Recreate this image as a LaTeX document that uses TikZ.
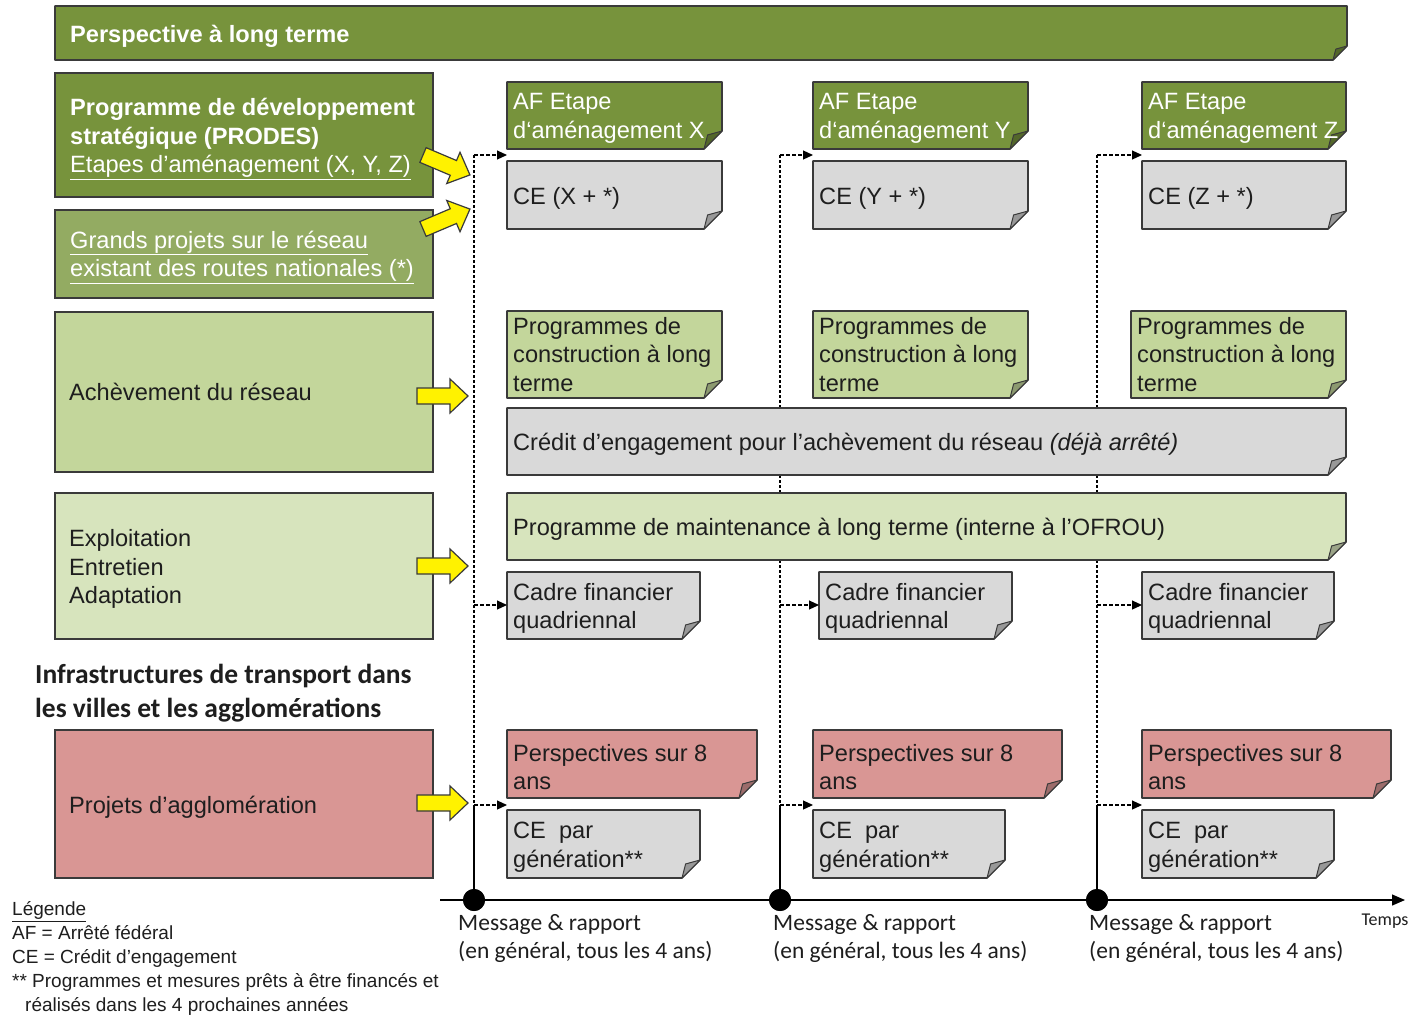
\documentclass[tikz,border=0pt]{standalone}
\usepackage{fontspec}
\setmainfont{Liberation Sans}
\newfontfamily\calfont{Carlito}
\usetikzlibrary{arrows.meta}
\pgfdeclarelayer{back}
\pgfdeclarelayer{bg}
\pgfsetlayers{back,bg,main}
\definecolor{dgreen}{HTML}{77933C}
\definecolor{mgreen}{HTML}{93AB62}
\definecolor{lgreen}{HTML}{C3D69B}
\definecolor{vlgreen}{HTML}{D7E4BD}
\definecolor{pinkc}{HTML}{D99694}
\definecolor{greyc}{HTML}{D9D9D9}
\definecolor{bdr}{HTML}{3A3A3A}
\definecolor{txt}{HTML}{1E1E1E}
\colorlet{dgreenf}{dgreen!70!black}
\colorlet{greyf}{greyc!70!black}
\colorlet{lgreenf}{lgreen!72!black}
\colorlet{vlgreenf}{vlgreen!72!black}
\colorlet{pinkf}{pinkc!72!black}

\newcommand\notebg[4]{%
\begin{pgfonlayer}{bg}
\filldraw[fill=#2, draw=bdr, line width=1.6pt, line join=round] (#1.north west) -- (#1.north east) -- ([yshift=#4pt]#1.south east) -- ([xshift=-#4pt]#1.south east) -- (#1.south west) -- cycle;
\filldraw[fill=#3, draw=bdr, line width=1pt, line join=round] ([xshift=-#4pt]#1.south east) .. controls ([xshift=-0.85*#4pt, yshift=0.4*#4pt]#1.south east) .. ([xshift=-0.8*#4pt, yshift=0.78*#4pt]#1.south east) -- ([yshift=#4pt]#1.south east) -- cycle;
\end{pgfonlayer}}

% name, x, y, w, h, fill, foldfill, text style, text
\newcommand\notebox[9]{%
\node[boxn, minimum width=#4pt, minimum height=#5pt] (#1) at (#2,#3) {};
\notebg{#1}{#6}{#7}{18}
\node[#8] (#1t) at ([xshift=6pt]#1.west) {#9};
}

\newcommand\yarr[3]{%
\begin{scope}[shift={(#1,#2)},rotate=#3]
\draw[yarrow] (0,-8) -- (33,-8) -- (33,-17) -- (51,0) -- (33,17) -- (33,8) -- (0,8) -- cycle;
\end{scope}}

\begin{document}
\begin{tikzpicture}[x=1pt,y=-1pt,
  boxn/.style={anchor=north west, inner sep=0pt, outer sep=0pt},
  lbox/.style={boxn, draw=bdr, line width=1.6pt},
  tx/.style={anchor=west, align=left, inner sep=0pt, text=txt, font=\fontsize{23.6}{28.5}\selectfont, yshift=-3pt},
  txw/.style={tx, text=white},
  txp/.style={tx, yshift=3pt},
  dconn/.style={dash pattern=on 4pt off 2pt, line width=1.1pt, -{Triangle[length=10pt,width=9pt]}},
  vdash/.style={dash pattern=on 3pt off 2pt, line width=1.1pt},
  vsolid/.style={line width=1.3pt},
  dotn/.style={circle, fill=black, inner sep=0pt, minimum size=22pt},
  yarrow/.style={fill=yellow, draw=bdr, line width=1.2pt, line join=miter},
  cal/.style={anchor=west, align=left, inner sep=0pt, text=txt, font=\calfont\fontsize{23.5}{28.5}\selectfont, yshift=-2pt},
  leg/.style={anchor=west, align=left, inner sep=0pt, text=txt, font=\fontsize{19}{24}\selectfont, yshift=-3pt}]
\useasboundingbox (0,0) rectangle (1415,1015);
\begin{pgfonlayer}{back}
\fill[white] (0,0) rectangle (1415,1015);
\end{pgfonlayer}

% top banner
\node[boxn, minimum width=1292pt, minimum height=54pt] (banner) at (55,6) {};
\notebg{banner}{dgreen}{dgreenf}{14}
\node[txw, font=\bfseries\fontsize{23.6}{28.5}\selectfont] (bannert) at ([xshift=15pt]banner.west) {Perspective à long terme};

% left boxes
\node[lbox, fill=dgreen, minimum width=378pt, minimum height=124pt] (prodes) at (55,73) {};
\node[txw, yshift=-1pt] (prodest) at ([xshift=15pt]prodes.west) {\textbf{Programme de développement}\\\textbf{stratégique (PRODES)}\\\underline{Etapes d’aménagement (X, Y, Z)}};
\node[lbox, fill=mgreen, minimum width=378pt, minimum height=88pt] (grands) at (55,210) {};
\node[txw] (grandst) at ([xshift=15pt]grands.west) {\underline{Grands projets sur le réseau}\\\underline{existant des routes nationales (*)}};
\node[lbox, fill=lgreen, minimum width=378pt, minimum height=160pt] (ach) at (55,312) {};
\node[txp] (acht) at ([xshift=14pt]ach.west) {Achèvement du réseau};
\node[lbox, fill=vlgreen, minimum width=378pt, minimum height=146pt] (expl) at (55,493) {};
\node[tx] (explt) at ([xshift=14pt]expl.west) {Exploitation\\Entretien\\Adaptation};
\node[cal, font=\calfont\bfseries\fontsize{27.5}{34}\selectfont] (infra) at (35,691) {Infrastructures de transport dans\\les villes et les agglomérations};
\node[lbox, fill=pinkc, minimum width=378pt, minimum height=148pt] (agglo) at (55,730) {};
\node[tx] (agglot) at ([xshift=14pt]agglo.west) {Projets d’agglomération};

% column 1
\notebox{afx}{507}{82}{215}{67}{dgreen}{dgreenf}{txw}{AF Etape\\d‘aménagement X}
\notebox{cex}{507}{161}{215}{68}{greyc}{greyf}{tx}{CE (X + *)}
\notebox{prx}{507}{311}{215}{87}{lgreen}{lgreenf}{txp}{Programmes de\\construction à long\\terme}
\notebox{cfx}{507}{572}{193}{67}{greyc}{greyf}{tx}{Cadre financier\\quadriennal}
\notebox{psx}{507}{730}{250}{68}{pinkc}{pinkf}{tx}{Perspectives sur 8\\ans}
\notebox{cgx}{507}{810}{193}{68}{greyc}{greyf}{tx}{CE\ \ par\\génération**}
% column 2
\notebox{afy}{813}{82}{215}{67}{dgreen}{dgreenf}{txw}{AF Etape\\d‘aménagement Y}
\notebox{cey}{813}{161}{215}{68}{greyc}{greyf}{tx}{CE (Y + *)}
\notebox{pry}{813}{311}{215}{87}{lgreen}{lgreenf}{txp}{Programmes de\\construction à long\\terme}
\notebox{cfy}{819}{572}{193}{67}{greyc}{greyf}{tx}{Cadre financier\\quadriennal}
\notebox{psy}{813}{730}{249}{68}{pinkc}{pinkf}{tx}{Perspectives sur 8\\ans}
\notebox{cgy}{813}{810}{192}{68}{greyc}{greyf}{tx}{CE\ \ par\\génération**}
% column 3
\notebox{afz}{1142}{82}{204}{67}{dgreen}{dgreenf}{txw}{AF Etape\\d‘aménagement Z}
\notebox{cez}{1142}{161}{204}{68}{greyc}{greyf}{tx}{CE (Z + *)}
\notebox{prz}{1131}{311}{215}{87}{lgreen}{lgreenf}{txp}{Programmes de\\construction à long\\terme}
\notebox{cfz}{1142}{572}{192}{67}{greyc}{greyf}{tx}{Cadre financier\\quadriennal}
\notebox{psz}{1142}{730}{249}{68}{pinkc}{pinkf}{tx}{Perspectives sur 8\\ans}
\notebox{cgz}{1142}{810}{192}{68}{greyc}{greyf}{tx}{CE\ \ par\\génération**}
% wide boxes
\notebox{credit}{507}{408}{839}{67}{greyc}{greyf}{tx}{Crédit d’engagement pour l’achèvement du réseau \textit{(déjà arrêté)}}
\notebox{maint}{507}{493}{839}{67}{vlgreen}{vlgreenf}{tx}{Programme de maintenance à long terme (interne à l’OFROU)}

% timeline and vertical lines
\coordinate (t0) at (440,900);
\coordinate (t1) at (1405,900);
\node[dotn] (d1) at (474,900) {};
\node[dotn] (d2) at (780,900) {};
\node[dotn] (d3) at (1097,900) {};
\coordinate (v1a) at (474,155); \coordinate (v1c) at (474,605); \coordinate (v1b) at (474,805);
\coordinate (v2a) at (780,155); \coordinate (v2c) at (780,605); \coordinate (v2b) at (780,805);
\coordinate (v3a) at (1097,155); \coordinate (v3c) at (1097,605); \coordinate (v3b) at (1097,805);
\begin{pgfonlayer}{back}
\draw[vdash] (v1a) -- (v1b);
\draw[vsolid] (v1b) -- (d1.center);
\draw[vdash] (v2a) -- (v2b);
\draw[vsolid] (v2b) -- (d2.center);
\draw[vdash] (v3a) -- (v3b);
\draw[vsolid] (v3b) -- (d3.center);
\end{pgfonlayer}
\draw[line width=1.3pt, -{Triangle[length=13pt,width=11pt]}] (t0) -- (t1);
\node[dotn] at (d1) {};
\node[dotn] at (d2) {};
\node[dotn] at (d3) {};

\draw[dconn] (v1a) -- (v1a -| afx.west);
\draw[dconn] (v1c) -- (v1c -| cfx.west);
\draw[dconn] (v1b) -- (v1b -| cgx.west);
\draw[dconn] (v2a) -- (v2a -| afy.west);
\draw[dconn] (v2c) -- (v2c -| cfy.west);
\draw[dconn] (v2b) -- (v2b -| cgy.west);
\draw[dconn] (v3a) -- (v3a -| afz.west);
\draw[dconn] (v3c) -- (v3c -| cfz.west);
\draw[dconn] (v3b) -- (v3b -| cgz.west);

% yellow arrows
\yarr{423}{155}{-23}
\yarr{423}{229}{23}
\yarr{417}{396}{0}
\yarr{417}{566}{0}
\yarr{417}{803}{0}

% labels
\node[cal] (m1) at (458,936.5) {Message \& rapport\\(en général, tous les 4 ans)};
\node[cal] (m2) at (773,936.5) {Message \& rapport\\(en général, tous les 4 ans)};
\node[cal] (m3) at (1089,936.5) {Message \& rapport\\(en général, tous les 4 ans)};
\node[cal, anchor=center, font=\calfont\fontsize{18}{22}\selectfont] (temps) at (1385,919) {Temps};

% legend
\node[leg] (legend) at (12,955.5) {\underline{Légende}\\AF = Arrêté fédéral\\CE = Crédit d’engagement\\** Programmes et mesures prêts à être financés et\\\hspace*{13pt}réalisés dans les 4 prochaines années};
\end{tikzpicture}
\end{document}
